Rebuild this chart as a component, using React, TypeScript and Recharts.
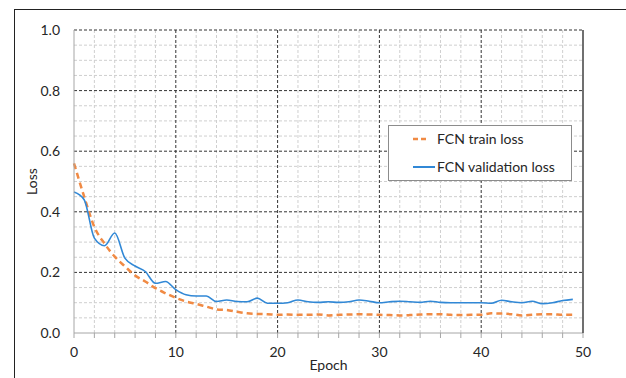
import React from 'react';
import { LineChart, Line, XAxis, YAxis, ReferenceLine, Legend, Label } from 'recharts';

const epochs = [0,1,2,3,4,5,6,7,8,9,10,11,12,13,14,15,16,17,18,19,20,21,22,23,24,25,26,27,28,29,30,31,32,33,34,35,36,37,38,39,40,41,42,43,44,45,46,47,48,49];

const trainLoss = [0.56,0.45,0.35,0.295,0.252,0.22,0.19,0.17,0.148,0.131,0.116,0.104,0.096,0.087,0.078,0.076,0.07,0.065,0.063,0.062,0.06,0.061,0.06,0.06,0.061,0.058,0.06,0.061,0.062,0.061,0.06,0.059,0.058,0.059,0.061,0.062,0.062,0.06,0.059,0.06,0.06,0.065,0.064,0.062,0.058,0.06,0.062,0.062,0.06,0.06];

const valLoss = [0.465,0.44,0.313,0.288,0.33,0.247,0.221,0.203,0.164,0.17,0.143,0.126,0.122,0.122,0.104,0.109,0.104,0.103,0.115,0.098,0.098,0.1,0.109,0.103,0.101,0.103,0.101,0.103,0.109,0.105,0.1,0.103,0.105,0.103,0.101,0.105,0.101,0.1,0.1,0.1,0.1,0.098,0.108,0.103,0.1,0.105,0.097,0.1,0.107,0.111];

const xTicks = [0,2,4,6,8,10,12,14,16,18,20,22,24,26,28,30,32,34,36,38,40,42,44,46,48,50];
const yTicks = [0,0.2,0.4,0.6,0.8,1.0];
const yMinorTicks = [0,0.05,0.1,0.15,0.2,0.25,0.3,0.35,0.4,0.45,0.5,0.55,0.6,0.65,0.7,0.75,0.8,0.85,0.9,0.95,1.0];
const xMajorGrid = [10,20,30,40];
const xMinorGrid = [2,4,6,8,12,14,16,18,22,24,26,28,32,34,36,38,42,44,46,48];
const yMajorGrid = [0.2,0.4,0.6,0.8,1.0];
const yMinorGrid = [0.05,0.1,0.15,0.25,0.3,0.35,0.45,0.5,0.55,0.65,0.7,0.75,0.85,0.9,0.95];

const data = epochs.map((e, i) => ({ epoch: e, train: trainLoss[i], val: valLoss[i] }));

const FONT = 'Lato, "Open Sans", sans-serif';
const TEXT = '#262626';
const ORANGE = '#F08A44';
const BLUE = '#3188D6';

const LegendBox = (props: any) => {
  const payload = props.payload || [];
  return (
    <div style={{ position: 'relative', width: 184, height: 56, border: '1px solid #8c8c8c', background: '#fff', boxSizing: 'border-box', fontFamily: FONT, fontSize: 14, color: TEXT }}>
      {payload.map((entry: any, i: number) => {
        const dashed = entry.dataKey === 'train';
        const cy = i === 0 ? 13 : 41;
        return (
          <div key={i}>
            <svg width={24} height={10} style={{ position: 'absolute', left: 24, top: cy - 5, display: 'block' }}>
              {dashed ? (
                <line x1={0} y1={5} x2={14} y2={5} stroke={entry.color} strokeWidth={2.5} strokeDasharray="5 3" />
              ) : (
                <line x1={0} y1={5} x2={22} y2={5} stroke={entry.color} strokeWidth={2} />
              )}
            </svg>
            <span style={{ position: 'absolute', left: 48, top: cy - 9, lineHeight: '18px', whiteSpace: 'nowrap' }}>{entry.value}</span>
          </div>
        );
      })}
    </div>
  );
};

const LossLabel = (props: any) => {
  const vb = props.viewBox || {};
  const cx = vb.x + 37;
  const cy = vb.y + vb.height / 2;
  return (
    <text x={cx} y={cy} transform={`rotate(-90 ${cx} ${cy})`} textAnchor="middle" fontFamily={FONT} fontSize={14} fill={TEXT}>
      Loss
    </text>
  );
};

export default function App() {
  return (
    <div style={{ position: 'fixed', left: 0, top: 0, width: 626, height: 378, overflow: 'hidden', background: '#fff' }}>
      <div style={{ position: 'absolute', left: 14, top: 9, width: 1000, height: 1000, borderTop: '1px solid #222', borderLeft: '1px solid #222' }} />
      <div style={{ position: 'absolute', left: 0, top: 0 }}>
        <LineChart width={626} height={378} data={data} margin={{ top: 30, right: 0, bottom: 0, left: 0 }}>
          <XAxis
            dataKey="epoch"
            type="number"
            domain={[0, 50]}
            ticks={xTicks}
            interval={0}
            height={45}
            tickSize={5}
            tickMargin={9}
            stroke="#a6a6a6"
            tickFormatter={(v: number) => (v % 10 === 0 ? String(v) : '')}
            tick={{ fill: TEXT, fontFamily: FONT, fontSize: 14 }}
          >
            <Label value="Epoch" position="insideBottom" offset={8} style={{ fill: TEXT, fontFamily: FONT, fontSize: 14 }} />
          </XAxis>
          <YAxis
            yAxisId="l"
            domain={[0, 1]}
            ticks={yTicks}
            interval={0}
            width={74}
            tickLine={false}
            tickSize={0}
            tickMargin={14}
            stroke="#a6a6a6"
            tickFormatter={(v: number) => v.toFixed(1)}
            tick={{ fill: TEXT, fontFamily: FONT, fontSize: 14 }}
          >
            <Label content={<LossLabel />} />
          </YAxis>
          <YAxis
            yAxisId="r"
            orientation="right"
            domain={[0, 1]}
            ticks={yMinorTicks}
            interval={0}
            width={43}
            tickSize={4}
            stroke="#404040"
            strokeWidth={1.5}
            tick={() => <g />}
          />
          {yMinorGrid.map((v) => (
            <ReferenceLine key={'ym' + v} yAxisId="l" y={v} stroke="#cfcfcf" strokeDasharray="3 2" />
          ))}
          {xMinorGrid.map((v) => (
            <ReferenceLine key={'xm' + v} yAxisId="l" x={v} stroke="#cfcfcf" strokeDasharray="3 2" />
          ))}
          {yMajorGrid.map((v) => (
            <ReferenceLine key={'yM' + v} yAxisId="l" y={v} stroke="#333" strokeDasharray="3 2" />
          ))}
          {xMajorGrid.map((v) => (
            <ReferenceLine key={'xM' + v} yAxisId="l" x={v} stroke="#333" strokeDasharray="3 2" />
          ))}
          <Line yAxisId="l" type="monotone" dataKey="train" name="FCN train loss" stroke={ORANGE} strokeWidth={2.5} strokeDasharray="6 4" dot={false} isAnimationActive={false} />
          <Line yAxisId="l" type="monotone" dataKey="val" name="FCN validation loss" stroke={BLUE} strokeWidth={1.6} dot={false} isAnimationActive={false} />
          <Legend
            layout="horizontal"
            verticalAlign="middle"
            align="center"
            content={<LegendBox />}
            wrapperStyle={{ position: 'absolute', left: 388, top: 125, width: 184, height: 56 }}
          />
        </LineChart>
      </div>
    </div>
  );
}
